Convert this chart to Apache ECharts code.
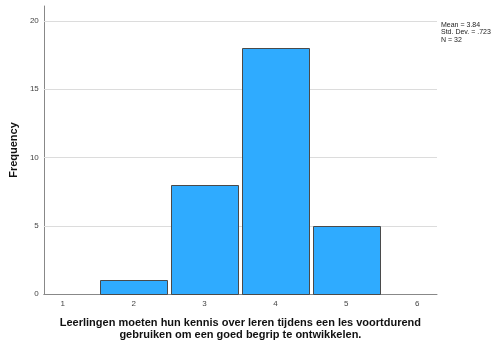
<!DOCTYPE html>
<html><head><meta charset="utf-8">
<script src="https://cdn.jsdelivr.net/npm/echarts@6/dist/echarts.min.js"></script>
<style>html,body{margin:0;padding:0;background:#fff}#c{width:496px;height:347px}</style>
</head><body><div id="c"></div>
<script>
const binCenters = [2, 3, 4, 5];
const frequencies = [1, 8, 18, 5];
const xTickLabels = [1, 2, 3, 4, 5, 6];
const yTickLabels = [0, 5, 10, 15, 20];
const xTitle = 'Leerlingen moeten hun kennis over leren tijdens een les voortdurend\ngebruiken om een goed begrip te ontwikkelen.';
const yTitle = 'Frequency';
const statsLines = ['Mean = 3.84', 'Std. Dev. = .723', 'N = 32'];

const chart = echarts.init(document.getElementById('c'), null, {renderer: 'canvas'});
const data = binCenters.map((c, i) => [c, frequencies[i]]);
chart.setOption({
  animation: false,
  grid: {left: 42, right: 59, top: 6, bottom: 53},
  xAxis: {
    type: 'value', min: 0.733, max: 6.28,
    axisLine: {show: true, lineStyle: {color: '#888', width: 1}},
    axisTick: {show: false},
    splitLine: {show: false},
    axisLabel: {customValues: xTickLabels, color: '#444', fontSize: 8, fontFamily: 'Arial, Liberation Sans', margin: 6},
    name: xTitle, nameLocation: 'middle', nameGap: 23,
    nameTextStyle: {color: '#111', fontSize: 11, fontWeight: 'bold', fontFamily: 'Liberation Sans', lineHeight: 12}
  },
  yAxis: {
    type: 'value', min: 0, max: 21.1,
    axisLine: {show: true, lineStyle: {color: '#888', width: 1}},
    axisTick: {show: false},
    splitLine: {show: false},
    axisLabel: {customValues: yTickLabels, color: '#444', fontSize: 8, fontFamily: 'Arial, Liberation Sans', margin: 5},
    name: yTitle, nameLocation: 'middle', nameGap: 16, nameRotate: 90,
    nameTextStyle: {color: '#111', fontSize: 11, fontWeight: 'bold', fontFamily: 'Liberation Sans'}
  },
  graphic: [{
    type: 'text', left: 441, top: 21,
    style: {text: statsLines.join('\n'), fill: '#222', fontSize: 7, lineHeight: 7.5, fontFamily: 'Arial, Liberation Sans'}
  }],
  series: [{
    type: 'line',
    data: [],
    z: 0,
    markLine: {
      silent: true, symbol: 'none', label: {show: false},
      lineStyle: {color: '#dcdcdc', type: 'solid', width: 1},
      data: yTickLabels.filter(v => v > 0).map(v => ({yAxis: v}))
    }
  }, {
    type: 'custom',
    data: data,
    encode: {x: 0, y: 1},
    renderItem: function (params, api) {
      const c = api.value(0), v = api.value(1);
      const p0 = api.coord([c - 0.475, v]);
      const p1 = api.coord([c + 0.475, 0]);
      return {
        type: 'rect',
        shape: {x: Math.round(p0[0]) + 0.5, y: Math.round(p0[1]) + 0.5, width: Math.round(p1[0] - p0[0]), height: Math.round(p1[1] - p0[1])},
        style: {fill: '#2fabff', stroke: '#4a4a4a', lineWidth: 1}
      };
    },
    z: 5
  }]
});
</script></body></html>
